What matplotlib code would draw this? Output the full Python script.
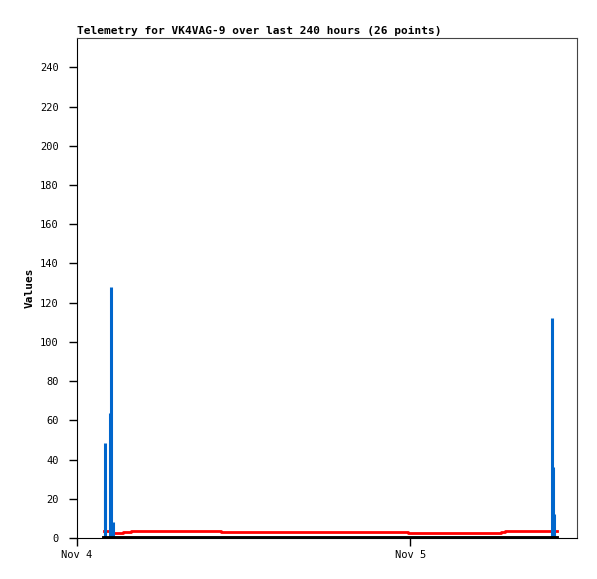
import datetime as dt

import matplotlib
matplotlib.use("Agg")
import matplotlib.pyplot as plt

# hours after Nov 4 00:00
start = dt.datetime(2023, 11, 4)

blue_hours = [1.98, 2.05, 2.38, 2.45, 2.56, 34.20, 34.27, 34.33]
blue_vals = [48.7, 24.5, 64.0, 128.0, 8.0, 112.0, 36.0, 12.0]

red_hours = [1.95, 2.60, 3.30, 3.90, 10.35, 23.85, 30.55, 30.80, 34.55]
red_vals = [3.8, 2.8, 3.1, 3.8, 3.3, 2.7, 3.2, 3.8, 3.8]

black_hours = [1.95, 34.55]
black_vals = [0.0, 0.0]

y_ticks = list(range(0, 241, 20))
x_tick_hours = [0, 24]
x_tick_labels = ["Nov 4", "Nov 5"]


def to_dates(hours):
    return [start + dt.timedelta(hours=h) for h in hours]


plt.rcParams["font.family"] = "DejaVu Sans Mono"

fig = plt.figure(figsize=(5.97, 5.79), dpi=100)
ax = fig.add_axes([77 / 597, 41 / 579, 500 / 597, 500 / 579])

ax.vlines(to_dates(blue_hours), 0, blue_vals, color="#0066cc", lw=2.2, zorder=3)
ax.step(to_dates(red_hours), red_vals, where="post", color="#ff0000", lw=2, zorder=2)
ax.plot(to_dates(black_hours), black_vals, color="black", lw=2.8, zorder=4)

ax.set_xlim(start, start + dt.timedelta(hours=36))
ax.set_ylim(0, 255)

ax.set_yticks(y_ticks)
ax.set_yticklabels([str(v) for v in y_ticks], fontsize=7.5)
ax.set_xticks(to_dates(x_tick_hours))
ax.set_xticklabels(x_tick_labels, fontsize=7.5)
ax.tick_params(axis="y", direction="out", length=6, width=1, pad=7)
ax.tick_params(axis="x", direction="out", length=6, width=1, pad=3)

for side in ["top", "right"]:
    ax.spines[side].set_color("#444444")
for side in ["left", "bottom"]:
    ax.spines[side].set_color("black")

ax.set_ylabel("Values", fontsize=8, fontweight="bold", labelpad=4)
ax.set_title("Telemetry for VK4VAG-9 over last 240 hours (26 points)",
             loc="left", fontsize=8, fontweight="bold", pad=3)

fig.savefig("out.png", dpi=100)
